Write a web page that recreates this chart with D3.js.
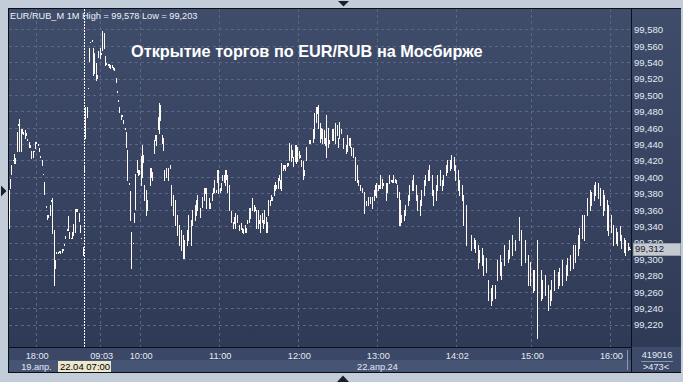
<!DOCTYPE html>
<html><head><meta charset="utf-8">
<script src="https://cdn.jsdelivr.net/npm/d3@7"></script>
<style>html,body{margin:0;padding:0;background:#c3cdda;overflow:hidden}svg{display:block}</style>
</head><body><svg id="c" width="683" height="382"></svg>
<script>
// ---------- DATA ----------
const priceTicks = [99.22,99.24,99.26,99.28,99.30,99.32,99.34,99.36,99.38,99.40,99.42,99.44,99.46,99.48,99.50,99.52,99.54,99.56,99.58];
const timeTickIdx = [21,70,100,160,220,280,340,397,457];
const timeTickLabels = ["18:00","09:03","10:00","11:00","12:00","13:00","14:02","15:00","16:00"];
const dateLabels = ["19.апр.","22.апр.24"];
const dateLabelIdx = [10,265];
const cursorIdx = 58, cursorLabel = "22.04 07:00";
const lastPrice = 99.312;
const headerText = "EUR/RUB_M 1M High = 99,578 Low = 99,203";
const titleText = "Открытие торгов по EUR/RUB на Мосбирже";
const volumeText = "419016", barsText = ">473<";
const barCount = 473;
// [bar index, high, low]  — 19 Apr evening
const session1Bars = [
[1,99.384,99.338],[2,99.397,99.386],[3,99.414,99.403],[4,99.421,99.420],[5,99.428,99.417],[6,99.423,99.417],
[7,99.455,99.431],[8,99.464,99.463],[9,99.471,99.431],[10,99.459,99.431],[11,99.458,99.453],[12,99.455,99.452],
[13,99.457,99.448],[14,99.453,99.451],[15,99.446,99.445],[16,99.443,99.436],[17,99.439,99.436],[18,99.431,99.423],
[19,99.431,99.424],[20,99.432,99.431],[21,99.443,99.435],[22,99.443,99.441],[23,99.440,99.439],[24,99.435,99.431],
[25,99.426,99.424],[26,99.421,99.414],[27,99.404,99.403],[28,99.394,99.379],[29,99.365,99.363],[30,99.354,99.349],
[31,99.354,99.351],[32,99.366,99.354],[33,99.372,99.371],[34,99.374,99.331],[35,99.335,99.268],[36,99.299,99.289],
[37,99.309,99.307],[38,99.309,99.307],[39,99.310,99.309],[40,99.310,99.307],[41,99.312,99.309],[42,99.312,99.311],
[43,99.318,99.317],[44,99.328,99.326],[45,99.336,99.335],[46,99.352,99.335],[47,99.333,99.326],[48,99.326,99.325],
[49,99.333,99.326],[50,99.343,99.329],[51,99.361,99.333],[52,99.361,99.358],[53,99.361,99.359],[54,99.356,99.346],
[55,99.341,99.333],[56,99.326,99.325],[57,99.315,99.305]
];
// 22 Apr
const session2Bars = [
[58,99.415,99.408],[59,99.485,99.448],[60,99.485,99.473],[61,99.509,99.508],[62,99.557,99.541],[63,99.565,99.564],
[64,99.567,99.566],[65,99.557,99.524],[66,99.551,99.527],[67,99.539,99.518],[68,99.524,99.521],[69,99.553,99.546],
[70,99.557,99.545],[71,99.551,99.550],[72,99.578,99.555],[73,99.576,99.557],[74,99.548,99.537],[75,99.539,99.538],
[76,99.538,99.537],[77,99.538,99.534],[78,99.537,99.533],[79,99.536,99.534],[80,99.534,99.531],[81,99.533,99.530],
[82,99.521,99.516],[83,99.505,99.504],[84,99.494,99.493],[85,99.485,99.479],[86,99.476,99.471],[87,99.476,99.474],
[88,99.469,99.466],[89,99.460,99.459],[90,99.455,99.436],[91,99.433,99.396],[92,99.392,99.391],[93,99.383,99.347],
[94,99.333,99.289],[95,99.320,99.319],[96,99.356,99.345],[97,99.403,99.361],[98,99.421,99.406],[99,99.408,99.402],
[100,99.408,99.404],[101,99.425,99.390],[102,99.439,99.400],[103,99.427,99.418],[104,99.390,99.372],[105,99.384,99.354],
[106,99.372,99.360],[108,99.411,99.390],[109,99.411,99.400],[110,99.406,99.396],[111,99.445,99.429],[112,99.451,99.445],
[113,99.451,99.439],[114,99.473,99.459],[115,99.490,99.453],[116,99.488,99.469],[117,99.451,99.441],[118,99.448,99.433],
[119,99.408,99.396],[120,99.411,99.400],[122,99.411,99.396],[123,99.414,99.411],[124,99.390,99.366],[126,99.378,99.354],
[127,99.372,99.341],[129,99.354,99.329],[130,99.341,99.317],[132,99.335,99.311],[133,99.329,99.301],[134,99.323,99.301],
[136,99.335,99.317],[137,99.354,99.323],[139,99.347,99.317],[140,99.360,99.341],[142,99.366,99.347],[143,99.372,99.354],
[144,99.378,99.360],[146,99.362,99.351],[148,99.375,99.363],[149,99.387,99.372],[150,99.386,99.380],[151,99.387,99.362],
[153,99.374,99.362],[154,99.368,99.362],[155,99.380,99.372],[156,99.386,99.380],[157,99.396,99.382],[158,99.384,99.382],
[159,99.408,99.394],[160,99.408,99.380],[161,99.387,99.382],[162,99.392,99.384],[163,99.402,99.396],[164,99.402,99.394],
[165,99.408,99.390],[166,99.408,99.398],[167,99.402,99.382],[168,99.390,99.360],[170,99.358,99.345],[171,99.345,99.338],
[172,99.351,99.344],[173,99.356,99.338],[174,99.354,99.345],[176,99.341,99.335],[177,99.344,99.337],[178,99.338,99.333],
[179,99.337,99.331],[180,99.341,99.333],[181,99.338,99.333],[182,99.347,99.344],[183,99.362,99.345],[184,99.362,99.350],
[186,99.374,99.360],[187,99.366,99.358],[188,99.363,99.360],[189,99.360,99.338],[190,99.360,99.338],[191,99.347,99.344],
[192,99.354,99.333],[193,99.356,99.345],[194,99.347,99.338],[195,99.360,99.344],[196,99.351,99.333],[197,99.345,99.333],
[198,99.372,99.354],[199,99.372,99.366],[200,99.378,99.372],[201,99.375,99.372],[202,99.390,99.378],[203,99.394,99.384],
[204,99.390,99.386],[205,99.399,99.386],[206,99.402,99.396],[207,99.396,99.386],[208,99.417,99.384],[209,99.415,99.408],
[210,99.415,99.411],[211,99.415,99.408],[212,99.417,99.413],[213,99.417,99.415],[214,99.441,99.421],[215,99.439,99.419],
[216,99.433,99.424],[217,99.424,99.413],[218,99.439,99.419],[219,99.439,99.417],[220,99.436,99.419],[221,99.431,99.423],
[222,99.427,99.424],[223,99.421,99.413],[224,99.419,99.398],[225,99.408,99.402],[227,99.436,99.421],[229,99.445,99.441],
[230,99.445,99.441],[232,99.459,99.443],[233,99.478,99.448],[234,99.485,99.467],[235,99.485,99.478],[236,99.488,99.460],
[237,99.466,99.443],[238,99.460,99.448],[239,99.459,99.441],[240,99.457,99.441],[241,99.448,99.439],[242,99.476,99.424],
[243,99.460,99.436],[244,99.445,99.441],[246,99.459,99.445],[247,99.459,99.445],[249,99.466,99.441],[250,99.463,99.451],
[251,99.448,99.436],[252,99.467,99.447],[253,99.459,99.454],[255,99.447,99.435],[257,99.439,99.429],[258,99.451,99.431],
[259,99.448,99.439],[260,99.447,99.436],[261,99.436,99.427],[262,99.435,99.424],[264,99.424,99.396],[265,99.415,99.394],
[266,99.396,99.390],[268,99.390,99.384],[269,99.387,99.382],[271,99.382,99.356],[272,99.370,99.366],[274,99.375,99.366],
[275,99.375,99.368],[277,99.375,99.362],[278,99.384,99.372],[279,99.390,99.378],[280,99.392,99.375],[281,99.390,99.384],
[282,99.390,99.386],[283,99.402,99.386],[284,99.398,99.387],[285,99.392,99.390],[287,99.392,99.372],[288,99.392,99.382],
[290,99.402,99.392],[291,99.396,99.395],[292,99.396,99.394],[293,99.402,99.394],[294,99.398,99.394],[295,99.396,99.392],
[296,99.390,99.375],[297,99.382,99.341],[298,99.372,99.341],[299,99.354,99.345],[301,99.360,99.347],[302,99.366,99.354],
[304,99.378,99.366],[305,99.390,99.372],[307,99.396,99.384],[308,99.402,99.384],[310,99.390,99.372],[311,99.378,99.360],
[313,99.372,99.354],[314,99.384,99.366],[316,99.396,99.378],[317,99.402,99.390],[319,99.408,99.396],[320,99.415,99.396],
[322,99.402,99.378],[323,99.384,99.366],[325,99.390,99.372],[326,99.402,99.384],[328,99.408,99.390],[330,99.396,99.384],
[331,99.402,99.390],[333,99.415,99.402],[334,99.421,99.406],[336,99.421,99.408],[337,99.427,99.411],[339,99.424,99.408],
[340,99.415,99.396],[342,99.408,99.384],[343,99.396,99.378],[345,99.390,99.372],[346,99.378,99.341],[348,99.366,99.317],
[352,99.329,99.311],[354,99.326,99.313],[355,99.323,99.308],[357,99.317,99.289],[358,99.311,99.296],[360,99.313,99.293],
[361,99.305,99.280],[363,99.301,99.284],[365,99.274,99.250],[367,99.265,99.244],[368,99.268,99.250],[370,99.268,99.252],
[372,99.299,99.274],[374,99.305,99.280],[375,99.296,99.276],[377,99.317,99.293],[380,99.311,99.296],[381,99.323,99.301],
[383,99.329,99.305],[385,99.323,99.311],[388,99.351,99.323],[390,99.335,99.293],[393,99.323,99.296],[395,99.305,99.268],
[397,99.296,99.268],[399,99.286,99.260],[400,99.286,99.262],[402,99.323,99.203],[405,99.286,99.250],[406,99.274,99.252],
[408,99.280,99.256],[410,99.268,99.238],[412,99.262,99.244],[413,99.274,99.250],[415,99.286,99.262],[418,99.284,99.264],
[419,99.289,99.268],[421,99.299,99.268],[424,99.292,99.274],[425,99.301,99.280],[427,99.305,99.286],[429,99.317,99.289],
[431,99.317,99.296],[433,99.329,99.305],[434,99.338,99.313],[436,99.354,99.326],[438,99.354,99.323],[440,99.374,99.354],
[442,99.384,99.360],[443,99.382,99.366],[445,99.390,99.372],[446,99.394,99.378],[448,99.392,99.374],[450,99.386,99.366],
[452,99.384,99.354],[453,99.378,99.360],[455,99.372,99.335],[456,99.366,99.329],[458,99.354,99.333],[460,99.341,99.317],
[462,99.338,99.320],[463,99.333,99.317],[465,99.340,99.323],[466,99.329,99.313],[468,99.326,99.308],[469,99.323,99.305],
[471,99.320,99.311],[472,99.315,99.312]
];

// ---------- LAYOUT ----------
const L = 8, T = 8, R = 631, B = 347;
const svg = d3.select('#c').attr('shape-rendering','crispEdges');
const FONT = "'Liberation Sans', Arial, sans-serif";
const x = d3.scaleLinear().domain([0, barCount]).range([L, R]);
const y = d3.scaleLinear().domain([99.58, 99.22]).range([29.3, 324.5]);
const fmt = d3.formatLocale({decimal:",", thousands:" ", grouping:[3], currency:["",""]}).format(".3f");

const defs = svg.append('defs');
const grad = defs.append('linearGradient').attr('id','bg').attr('x1',0).attr('y1',0).attr('x2',0).attr('y2',1);
grad.append('stop').attr('offset','0%').attr('stop-color','#3f4c6a');
grad.append('stop').attr('offset','100%').attr('stop-color','#2f3a56');

// outer frame
svg.append('rect').attr('x',0).attr('y',0).attr('width',683).attr('height',382).attr('fill','#c3cdda');
// plot + right axis background
svg.append('rect').attr('x',L).attr('y',T).attr('width',681-L).attr('height',B-T).attr('fill','url(#bg)');
// bottom axis rows
svg.append('rect').attr('x',L).attr('y',B).attr('width',R-L).attr('height',13).attr('fill','#3a4766');
svg.append('rect').attr('x',L).attr('y',B+13).attr('width',R-L).attr('height',12).attr('fill','#475574');
svg.append('rect').attr('x',R).attr('y',B).attr('width',681-R).attr('height',25).attr('fill','#3d4a69');

// grid
const grid = svg.append('g').attr('stroke','#5a6784').attr('stroke-dasharray','3,3').attr('stroke-width',1);
grid.selectAll('line.h').data(priceTicks).join('line')
  .attr('x1',L+1).attr('x2',R).attr('y1',d=>Math.round(y(d))+0.5).attr('y2',d=>Math.round(y(d))+0.5);
grid.selectAll('line.v').data(timeTickIdx).join('line')
  .attr('x1',d=>Math.round(x(d))+0.5).attr('x2',d=>Math.round(x(d))+0.5).attr('y1',T+1).attr('y2',B);

// cursor line
svg.append('line').attr('x1',Math.floor(x(cursorIdx))+0.5).attr('x2',Math.floor(x(cursorIdx))+0.5)
  .attr('y1',T+1).attr('y2',B).attr('stroke','#ffffff').attr('stroke-dasharray','2,1');

// bars
const allBars = session1Bars.concat(session2Bars);
svg.append('g').selectAll('rect').data(allBars).join('rect')
  .attr('x',d=>Math.floor(x(d[0])))
  .attr('y',d=>Math.round(y(d[1])))
  .attr('width',1)
  .attr('height',d=>Math.max(1, Math.round(y(d[2]))-Math.round(y(d[1]))+1))
  .attr('fill','#fff9f4');

// last price marker
const lpY = Math.round(y(lastPrice))+0.5;
svg.append('line').attr('x1',Math.floor(x(472))+1).attr('x2',R).attr('y1',lpY).attr('y2',lpY)
  .attr('stroke','#ffffff').attr('stroke-dasharray','1,1');

// frame lines
const fr = svg.append('g').attr('stroke','#0c0f18').attr('stroke-width',1);
fr.append('line').attr('x1',L).attr('x2',681).attr('y1',T+0.5).attr('y2',T+0.5);
fr.append('line').attr('x1',L+0.5).attr('x2',L+0.5).attr('y1',T).attr('y2',373);
fr.append('line').attr('x1',L).attr('x2',R).attr('y1',B+0.5).attr('y2',B+0.5);
fr.append('line').attr('x1',R+0.5).attr('x2',R+0.5).attr('y1',T).attr('y2',373);
fr.append('line').attr('x1',L).attr('x2',681).attr('y1',372.5).attr('y2',372.5);

// right price axis
const yAxis = d3.axisRight(y).tickValues(priceTicks).tickFormat(fmt).tickSize(0).tickPadding(0);
const ya = svg.append('g').attr('transform',`translate(${R+3},0)`).call(yAxis);
ya.select('.domain').remove();
ya.selectAll('text').attr('fill','#e4eaf4').attr('font-family',FONT).attr('font-size','9.5px')
  .attr('text-anchor','start').attr('dy','0.36em').attr('x',0);

// last price box
svg.append('rect').attr('x',R+2).attr('y',Math.round(y(lastPrice))-6).attr('width',47).attr('height',12)
  .attr('fill','#c5c9d0').attr('stroke','#9aa0aa');
svg.append('text').attr('x',R+4).attr('y',y(lastPrice)).attr('dy','0.36em').text(fmt(lastPrice))
  .attr('fill','#1a2236').attr('font-family',FONT).attr('font-size','9.5px');

// bottom time axis
const xAxis = d3.axisBottom(x).tickValues(timeTickIdx).tickFormat((d,i)=>timeTickLabels[i]).tickSize(0).tickPadding(0);
const xa = svg.append('g').attr('transform',`translate(1,${B})`).call(xAxis);
xa.select('.domain').remove();
xa.selectAll('text').attr('fill','#e4eaf4').attr('font-family',FONT).attr('font-size','9.2px').attr('y',11.5).attr('dy',0);

// date row
svg.append('g').selectAll('text').data(dateLabels).join('text')
  .attr('x',(d,i)=>x(dateLabelIdx[i])).attr('y',370).text(d=>d)
  .attr('fill','#e4eaf4').attr('font-family',FONT).attr('font-size','9.2px');
// cursor label
const cx0 = Math.floor(x(cursorIdx)) - 26;
svg.append('rect').attr('x',cx0).attr('y',361).attr('width',53).attr('height',11).attr('fill','#ece8cc');
svg.append('text').attr('x',cx0+27).attr('y',370).attr('text-anchor','middle').text(cursorLabel)
  .attr('fill','#000').attr('font-family',FONT).attr('font-size','9.5px');
// small separator in time axis
svg.append('line').attr('x1',627.5).attr('x2',627.5).attr('y1',350).attr('y2',370).attr('stroke','#8a97ad');

// right bottom box
svg.append('text').attr('x',657).attr('y',357.5).attr('text-anchor','middle').text(volumeText)
  .attr('fill','#e4eaf4').attr('font-family',FONT).attr('font-size','9.2px');
svg.append('line').attr('x1',641).attr('x2',673).attr('y1',361.5).attr('y2',361.5).attr('stroke','#8a97ad');
svg.append('text').attr('x',656).attr('y',370).attr('text-anchor','middle').text(barsText)
  .attr('fill','#e4eaf4').attr('font-family',FONT).attr('font-size','9.2px');

// header & title
svg.append('text').attr('x',10).attr('y',18.5).text(headerText)
  .attr('fill','#eef2f8').attr('font-family',FONT).attr('font-size','9.2px');
svg.append('text').attr('x',131).attr('y',56.5).text(titleText)
  .attr('fill','#ffffff').attr('font-family',FONT).attr('font-weight','bold').attr('font-size','16.3px')
  .attr('shape-rendering','auto');

// navigation triangles
const tri = svg.append('g').attr('fill','#1a1f2c').attr('shape-rendering','auto');
tri.append('path').attr('d','M338,1 L349,1 L343.5,6.5 Z');
tri.append('path').attr('d','M337,382 L349,382 L343,375.5 Z');
tri.append('path').attr('d','M1,185.5 L1,196.5 L6.5,191 Z');
// right light edge
svg.append('rect').attr('x',681).attr('y',0).attr('width',2).attr('height',382).attr('fill','#c3cdda');
</script></body></html>
